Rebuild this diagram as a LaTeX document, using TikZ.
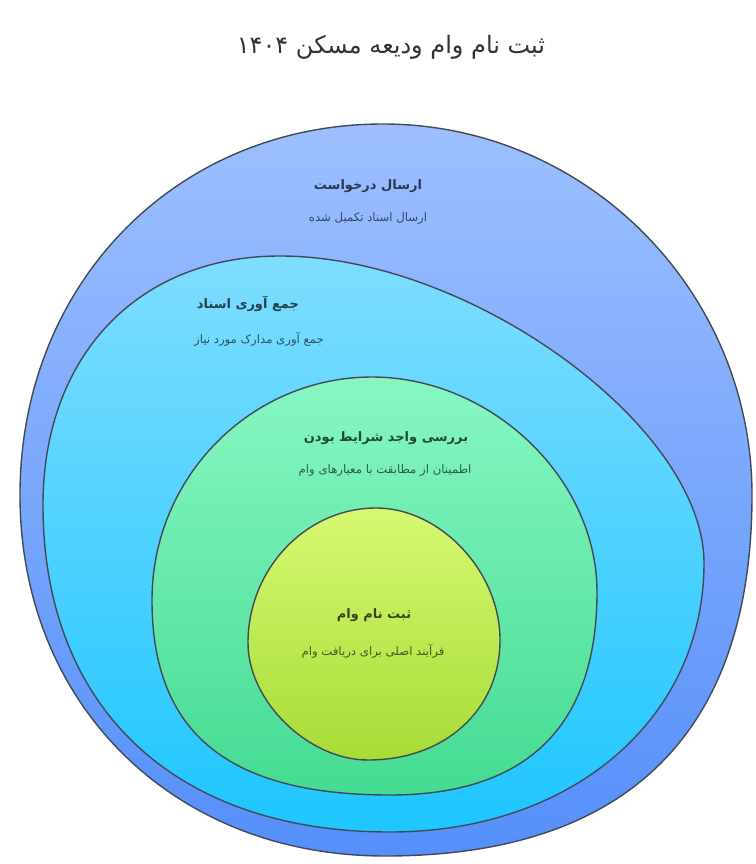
\documentclass[tikz,border=0pt]{standalone}
\usepackage{fontspec}
\newfontfamily\fa[Script=Arabic]{DejaVu Sans}
\TeXXeTstate=1
\definecolor{edgec}{HTML}{444A55}
\definecolor{oTop}{HTML}{9DBFFF}
\definecolor{oBot}{HTML}{558FFA}
\definecolor{sTop}{HTML}{7EDDFF}
\definecolor{sBot}{HTML}{1EC6FF}
\definecolor{tTop}{HTML}{88F7C2}
\definecolor{tBot}{HTML}{44DB92}
\definecolor{fTop}{HTML}{D6F972}
\definecolor{fBot}{HTML}{A6DC36}
\definecolor{titlec}{HTML}{333333}
\begin{document}
\begin{tikzpicture}[x=1pt,y=-1pt,
  ring/.style={draw=edgec, line width=1.4pt},
  lbl/.style={font=\fa\bfseries\fontsize{13}{15}\selectfont, text=black, text opacity=0.7, inner sep=0pt},
  desc/.style={font=\fa\fontsize{11.7}{13}\selectfont, text=black, text opacity=0.62, inner sep=0pt},
  ttl/.style={font=\fa\fontsize{24}{27}\selectfont, text=titlec, inner sep=0pt}]
\useasboundingbox[fill=white] (0,0) rectangle (755,864);
% outer ring
\path[ring, top color=oTop, bottom color=oBot]
  (383,124) .. controls (586,124) and (752,291) .. (752,495)
  .. controls (752,733) and (627,856) .. (385,856)
  .. controls (173,856) and (20,704) .. (20,495)
  .. controls (20,284) and (176,124) .. (383,124) -- cycle;
% second ring
\path[ring, top color=sTop, bottom color=sBot]
  (280,256) .. controls (471,256) and (704,427) .. (704,563)
  .. controls (704,719) and (572,832) .. (390,832)
  .. controls (175,832) and (43,708) .. (43,505)
  .. controls (43,356) and (138,256) .. (280,256) -- cycle;
% third ring
\path[ring, top color=tTop, bottom color=tBot]
  (372,377) .. controls (491,377) and (597,478) .. (597,592)
  .. controls (597,726) and (527,795) .. (390,795)
  .. controls (228,795) and (152,733) .. (152,600)
  .. controls (152,477) and (251,377) .. (372,377) -- cycle;
% inner ring
\path[ring, top color=fTop, bottom color=fBot]
  (376,508) .. controls (440,508) and (500,571) .. (500,640)
  .. controls (500,710) and (445,760) .. (368,760)
  .. controls (308,760) and (248,701) .. (248,643)
  .. controls (248,569) and (306,508) .. (376,508) -- cycle;
% texts
\node[ttl] (title) at (391,47) {\beginR ثبت نام وام ودیعه مسکن ۱۴۰۴\endR};
\node[lbl] (l1) at (368,186) {\beginR ارسال درخواست\endR};
\node[desc] (d1) at (368,218) {\beginR ارسال اسناد تکمیل شده\endR};
\node[lbl] (l2) at (248,304) {\beginR جمع آوری اسناد\endR};
\node[desc] (d2) at (259,339) {\beginR جمع آوری مدارک مورد نیاز\endR};
\node[lbl] (l3) at (386,438) {\beginR بررسی واجد شرایط بودن\endR};
\node[desc] (d3) at (385,470) {\beginR اطمینان از مطابقت با معیارهای وام\endR};
\node[lbl] (l4) at (374,615) {\beginR ثبت نام وام\endR};
\node[desc] (d4) at (373,651) {\beginR فرآیند اصلی برای دریافت وام\endR};
\end{tikzpicture}
\end{document}
